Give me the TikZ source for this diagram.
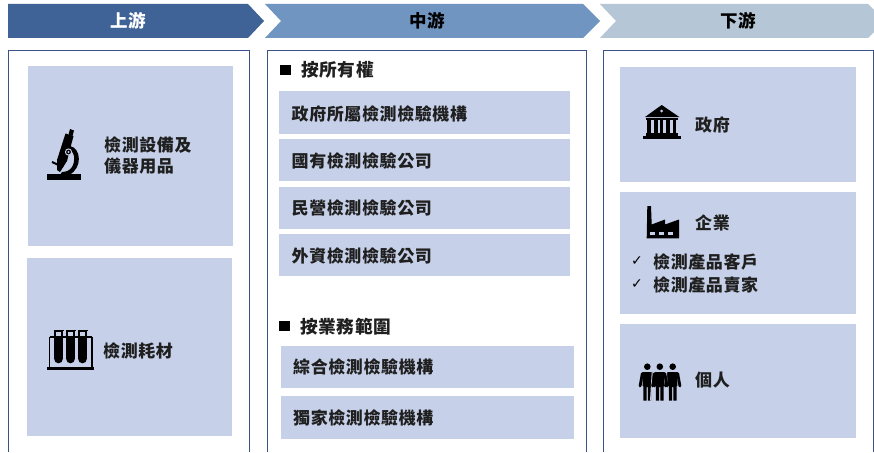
\documentclass[tikz,border=0pt]{standalone}
\usepackage{fontspec}
\newfontfamily\cjk[LetterSpace=3.5]{Noto Sans CJK TC}
\newfontfamily\dejavu{DejaVu Sans}
\definecolor{upc}{HTML}{3F6297}
\definecolor{midc}{HTML}{7095C0}
\definecolor{lowc}{HTML}{B5C6D6}
\definecolor{boxc}{HTML}{C6D0E8}
\definecolor{edgec}{HTML}{3A5288}
\tikzset{
  panelline/.style={draw=edgec,line width=1pt},
  lab/.style={anchor=west,inner sep=0pt,font=\cjk\bfseries\fontsize{17}{20}\selectfont,text=black!88},
  head/.style={inner sep=0pt,font=\cjk\bfseries\fontsize{17.5}{20}\selectfont},
  section/.style={lab,font=\cjk\bfseries\fontsize{17.7}{20}\selectfont},
  checkmark/.style={lab,font=\dejavu\fontsize{14}{16}\selectfont,text=black},
  icon/.style={fill=black,draw=none}
}
\newcommand{\personicon}[1]{%
  \begin{scope}[shift={(#1,0)}]
    \fill[black] (0,366.7) circle (3.3);
    \fill[black] (-4.6,372) -- (4.6,372) -- (4.6,386) -- (3.9,386) -- (3.9,400.7) -- (0.6,400.7) -- (0.6,387) -- (-0.6,387) -- (-0.6,400.7) -- (-3.9,400.7) -- (-3.9,386) -- (-4.6,386) -- cycle;
    \draw[black,line width=2.8pt,line cap=round] (-5,373.5) -- (-7.2,386);
    \draw[black,line width=2.8pt,line cap=round] (5,373.5) -- (7.2,386);
  \end{scope}}
\begin{document}
\begin{tikzpicture}[x=1pt,y=-1pt]
\useasboundingbox (0,0) rectangle (874,452);
\fill[white] (0,0) rectangle (874,452);
% chevrons
\fill[upc] (8,4) -- (248,4) -- (264,21) -- (248,38) -- (8,38) -- cycle;
\fill[midc] (265,4) -- (583,4) -- (600,21) -- (583,38) -- (265,38) -- (281,21) -- cycle;
\fill[lowc] (600,4) -- (868,4) -- (874,10) -- (874,32) -- (868,38) -- (600,38) -- (616,21) -- cycle;
\node[head,text=white] (hup) at (128,20.5) {上游};
\node[head,text=black] (hmid) at (427,20.5) {中游};
\node[head,text=black] (hlow) at (738,20.5) {下游};
% panels
\draw[panelline] (8.5,452) -- (8.5,50.5) -- (249.5,50.5) -- (249.5,452);
\draw[panelline] (267.5,452) -- (267.5,50.5) -- (586,50.5) -- (586,452);
\draw[panelline] (603,452) -- (603,50.5) -- (873,50.5) -- (873,452);
% boxes
\fill[boxc] (28,66) rectangle (233,246);
\fill[boxc] (27,258) rectangle (232,436);
\fill[boxc] (279,91) rectangle (570,134);
\fill[boxc] (279,139) rectangle (570,181);
\fill[boxc] (279,187) rectangle (570,229);
\fill[boxc] (279,234) rectangle (570,276);
\fill[boxc] (281,346) rectangle (574,388);
\fill[boxc] (281,396) rectangle (574,439);
\fill[boxc] (620,67) rectangle (856,182);
\fill[boxc] (620,192) rectangle (856,314);
\fill[boxc] (620,324) rectangle (856,438);
% left labels
\node[lab] (l1) at (104,145.5) {檢測設備及};
\node[lab] (l2) at (104,166.5) {儀器用品};
\node[lab] (l3) at (103,350.5) {檢測耗材};
% middle labels
\fill[black] (280,65) rectangle (291,75);
\node[section] (s1) at (301,69.5) {按所有權};
\node[lab] (m1) at (291.5,113.5) {政府所屬檢測檢驗機構};
\node[lab] (m2) at (291.5,160.5) {國有檢測檢驗公司};
\node[lab] (m3) at (291.5,207.5) {民營檢測檢驗公司};
\node[lab] (m4) at (291.5,255.5) {外資檢測檢驗公司};
\fill[black] (279,321) rectangle (290,331);
\node[section] (s2) at (300,326.5) {按業務範圍};
\node[lab] (m5) at (293,366.5) {綜合檢測檢驗機構};
\node[lab] (m6) at (293,417.5) {獨家檢測檢驗機構};
% right labels
\node[lab] (r1) at (695,124.5) {政府};
\node[lab] (r2) at (695,222.5) {企業};
\node[lab] (r3) at (695,380.5) {個人};
\node[checkmark] (c1) at (631,261) {✓};
\node[checkmark] (c2) at (631,284) {✓};
\node[lab] (r4) at (653,262.5) {檢測產品客戶};
\node[lab] (r5) at (653,285.5) {檢測產品賣家};
% microscope
\fill[icon] (47,174) rectangle (81,180);
\fill[icon] (70,129) -- (74,130.5) -- (72.5,136) -- (68.5,134.5) -- cycle;
\fill[icon] (65.5,133.5) -- (73.5,136) -- (67,161) -- (60,172) -- (57,170) -- (57,160) -- cycle;
\fill[icon] (70,146) .. controls (81,148) and (83,168) .. (69,175) -- (60,175) -- (62,172) .. controls (71,172) and (75,165) .. (74,156) .. controls (73,152) and (71,150) .. (69,150) -- cycle;
\draw[black,line width=2pt] (52,162) -- (63,167);
\fill[boxc] (68.5,152) circle (3.6);
\fill[black] (68.5,152) circle (2.4);
\fill[boxc] (68.5,152) circle (1.2);
% test tubes
\fill[icon] (47,367) rectangle (94,369.5);
\draw[black,line width=1.5pt] (49.5,367) -- (49.5,337);
\draw[black,line width=1.5pt] (92,367) -- (92,337);
\draw[black,line width=1.5pt] (49.5,337) -- (92,337);
\foreach \tx in {58.5,70.5,82.5}{
  \fill[black] (\tx-4.3,338) -- (\tx+4.3,338) -- (\tx+4.3,359) arc[start angle=0,end angle=180,radius=4.3] -- cycle;
  \draw[black,line width=1.4pt] (\tx-3.6,338) -- (\tx-3.6,331) -- (\tx+3.6,331) -- (\tx+3.6,338);
  \draw[black,line width=1.6pt] (\tx-5,330.5) -- (\tx+5,330.5);
}
% bank
\fill[icon] (661.7,105) -- (679.3,117) -- (645,117) -- cycle;
\fill[boxc] (661.7,111) circle (1.5);
\fill[icon] (646,118) rectangle (678,120);
\foreach \cx in {649,655.8,667.6,674.4}{ \fill[black] (\cx-1.9,120) rectangle (\cx+1.9,133); }
\fill[black] (660,120) rectangle (663.4,133);
\fill[icon] (646,133) rectangle (678,135.5);
\fill[icon] (643.3,135.5) rectangle (681,138.5);
% factory
\fill[icon] (647.3,206) -- (651,206) -- (651.7,224.5) -- (665,219.5) -- (665,224.5) -- (679,219.5) -- (679,238.3) -- (646.7,238.3) -- cycle;
\foreach \wx in {650,659,668.3}{ \fill[boxc] (\wx,231.7) rectangle (\wx+5,235); }
% people
\personicon{647.3}
\personicon{672.7}
\draw[boxc,line width=1pt] (652.2,372) -- (650.5,400.7);
\draw[boxc,line width=1pt] (666.4,372) -- (668.1,400.7);
\personicon{659.8}
\end{tikzpicture}
\end{document}
